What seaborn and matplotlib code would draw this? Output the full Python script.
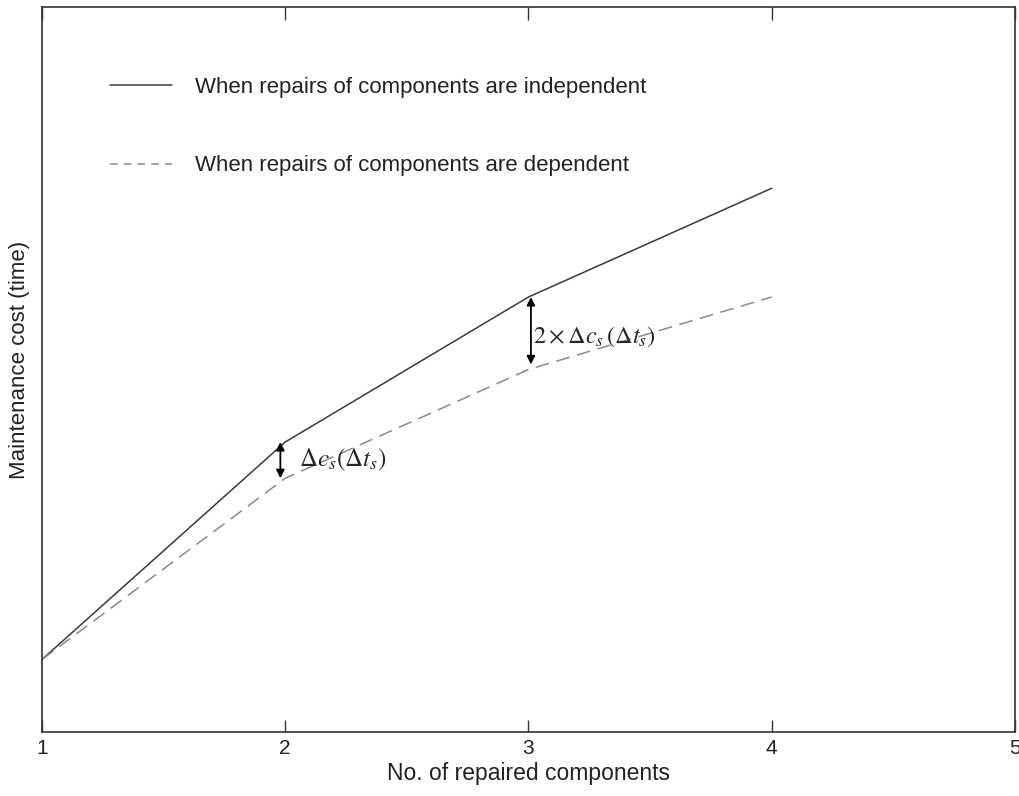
import matplotlib
matplotlib.use("Agg")
import matplotlib.pyplot as plt
import seaborn as sns
import pandas as pd
from matplotlib.lines import Line2D

# Data
components = [1, 2, 3, 4]
cost_independent = [10, 40, 60, 75]
cost_dependent = [10, 35, 50, 60]
label_independent = "When repairs of components are independent"
label_dependent = "When repairs of components are dependent"
xticks = [1, 2, 3, 4, 5]

sns.set_theme(style="white")
plt.rcParams['font.family'] = ['Liberation Sans', 'DejaVu Sans']
plt.rcParams['mathtext.fontset'] = 'stix'

fig = plt.figure(figsize=(10.2, 7.96), dpi=100)
ax = fig.add_axes([42/1020, 64/796, 973/1020, 725/796])

df = pd.DataFrame({
    "x": components * 2,
    "y": cost_independent + cost_dependent,
    "series": [label_independent] * 4 + [label_dependent] * 4,
})
sns.lineplot(data=df, x="x", y="y", hue="series", style="series",
             palette={label_independent: "#3a3a3a", label_dependent: "#8a8a8a"},
             dashes={label_independent: "", label_dependent: (9, 5)},
             linewidth=1.1, ax=ax, legend=False)

ax.set_xlim(1, 5)
ax.set_ylim(0, 100)
ax.set_xticks(xticks)
ax.set_xticklabels([str(t) for t in xticks], fontsize=15, color='#222222')
ax.set_yticks([])
ax.tick_params(axis='x', direction='in', length=9, width=1, color='#333333',
               top=True, bottom=True, pad=5)
for s in ax.spines.values():
    s.set_color('#333333')
    s.set_linewidth(1.2)
ax.set_xlabel("No. of repaired components", fontsize=16.5, color='#222222', labelpad=3)
ax.set_ylabel("Maintenance cost (time)", fontsize=16, color='#222222')
ax.yaxis.set_label_coords(-0.012, 0.513)

# Legend (MATLAB-style, no box)
handles = [Line2D([], [], color="#3a3a3a", lw=1.1),
           Line2D([], [], color="#8a8a8a", lw=1.1, dashes=(5, 4))]
ax.legend(handles, [label_independent, label_dependent], loc='upper left',
          bbox_to_anchor=(0.07, 0.904), frameon=False, fontsize=16,
          handlelength=2.8, handletextpad=1.0, labelspacing=2.6,
          borderpad=0, borderaxespad=0, labelcolor='#222222')

# Difference arrows
ax.annotate("", xy=(1.98, cost_dependent[1]), xytext=(1.98, cost_independent[1]),
            arrowprops=dict(arrowstyle='<|-|>', color='black', lw=1.3,
                            mutation_scale=12, shrinkA=0, shrinkB=0))
ax.annotate("", xy=(3.01, cost_dependent[2] + 0.7), xytext=(3.01, cost_independent[2]),
            arrowprops=dict(arrowstyle='<|-|>', color='black', lw=1.3,
                            mutation_scale=12, shrinkA=0, shrinkB=0))
ax.text(2.055, 37.6, r"$\Delta c_s(\Delta t_s)$", fontsize=18, va='center', ha='left')
ax.text(3.02, 54.5, r"$2\times\Delta c_s\,(\Delta t_s)$", fontsize=17.5, va='center', ha='left')

fig.savefig("out.png", dpi=100)
